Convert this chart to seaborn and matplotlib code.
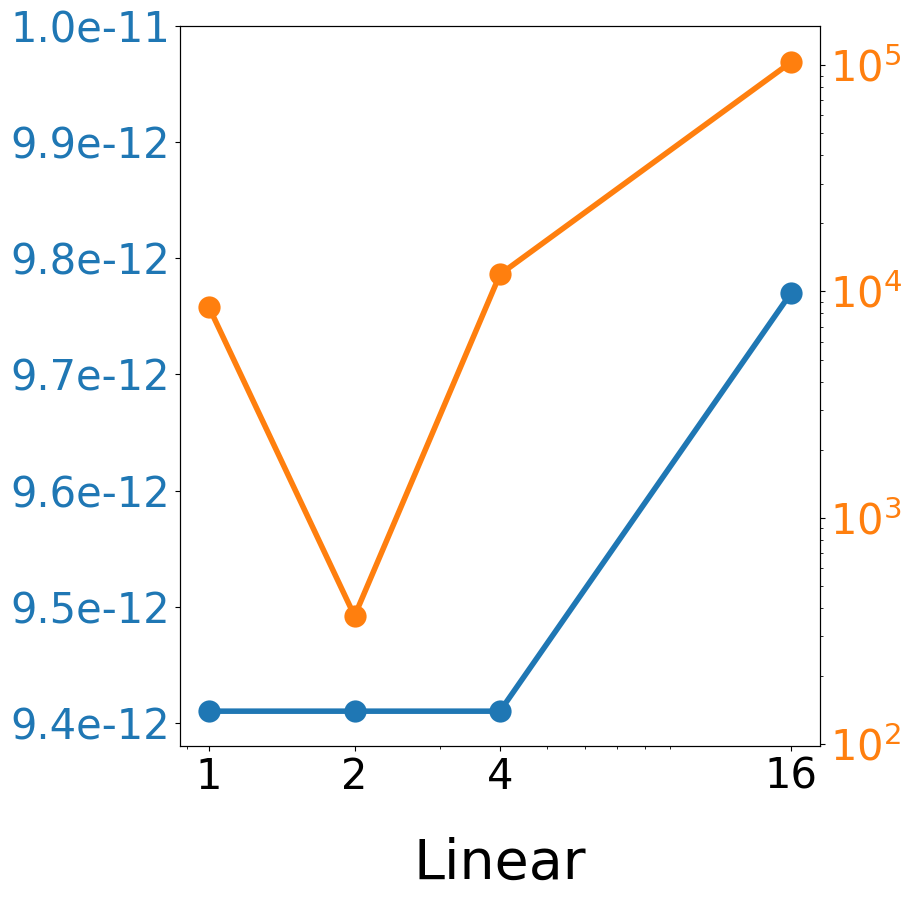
import matplotlib
matplotlib.use("Agg")
import matplotlib.pyplot as plt
import matplotlib.ticker as mticker
import seaborn as sns
import pandas as pd

x_vals = [1, 2, 4, 16]
x_labels = ["1", "2", "4", "16"]
blue_vals = [9.41e-12, 9.41e-12, 9.41e-12, 9.77e-12]
orange_vals = [8500, 368, 11900, 103000]
left_ticks = [9.4e-12, 9.5e-12, 9.6e-12, 9.7e-12, 9.8e-12, 9.9e-12, 1.0e-11]

df = pd.DataFrame({"x": x_vals, "blue": blue_vals, "orange": orange_vals})

fig = plt.figure(figsize=(9.11, 9.0), dpi=100)
ax = fig.add_axes([0.1976, 0.1711, 0.7025, 0.8000])
ax2 = ax.twinx()

sns.lineplot(data=df, x="x", y="blue", ax=ax, color="tab:blue", marker="o",
             markersize=16, linewidth=4, markeredgewidth=0)
sns.lineplot(data=df, x="x", y="orange", ax=ax2, color="tab:orange", marker="o",
             markersize=16, linewidth=4, markeredgewidth=0)

ax.set_xscale("log")
ax.set_xticks(x_vals)
ax.set_xticklabels(x_labels)
ax.set_ylim(9.38e-12, 1.0e-11)
ax.set_yticks(left_ticks)
ax.yaxis.set_major_formatter(mticker.FormatStrFormatter("%.1e"))
ax.tick_params(axis="y", labelcolor="tab:blue", labelsize=30)
ax.tick_params(axis="x", labelsize=30)
ax.set_xlabel("Linear", fontsize=40, labelpad=28)
ax.set_ylabel("")

ax2.set_yscale("log")
ax2.set_ylim(98, 1.49e5)
ax2.tick_params(axis="y", labelcolor="tab:orange", labelsize=30)
ax2.set_ylabel("")

fig.savefig("out.png", dpi=100)
